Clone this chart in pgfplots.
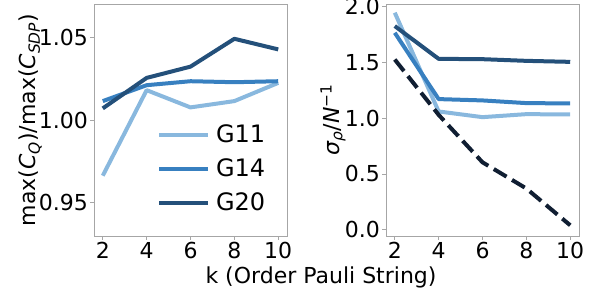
\documentclass[border=0pt]{standalone}
\usepackage{pgfplots}
\pgfplotsset{compat=1.18}
\usepackage{fontspec}
\setmainfont{DejaVu Sans}
\definecolor{cA}{RGB}{137,184,222}
\definecolor{cB}{RGB}{56,128,192}
\definecolor{cC}{RGB}{36,80,122}
\definecolor{cD}{RGB}{16,30,50}
\begin{document}
\fontsize{22}{26}\selectfont
\begin{tikzpicture}
\useasboundingbox (0pt,0pt) rectangle (597pt,294pt);
\pgfplotsset{
  myax/.style={
    scale only axis, width=193pt, height=232pt,
    anchor=south west,
    xmin=1.6, xmax=10.4,
    xtick={2,4,6,8,10},
    tick align=outside, tick pos=left,
    major tick length=4pt,
    axis line style={draw=black!35, line width=0.8pt},
    tick style={draw=black!35, line width=0.8pt},
    tick label style={font=\fontsize{22}{26}\selectfont},
    xticklabel style={inner sep=2pt},
    yticklabel style={inner sep=2pt},
    label style={font=\fontsize{22}{26}\selectfont},
    /pgf/number format/assume math mode=true,
    every axis plot/.append style={line width=4pt, line join=round},
  }
}
\begin{axis}[myax, at={(94pt,58pt)},
  ymin=0.93, ymax=1.07,
  ytick={0.95,1.00,1.05},
  yticklabel style={/pgf/number format/.cd, fixed, fixed zerofill, precision=2},
  ylabel={max(\textit{C}\textsubscript{\textit{Q}})/max(\textit{C}\textsubscript{\textit{SDP}})},
  ylabel style={at={(axis description cs:-0.33,0.5)}, anchor=center},
  legend style={at={(axis description cs:0.31,0.50)}, anchor=north west, draw=none, fill=none,
    font=\fontsize{24}{28}\selectfont, row sep=9pt},
  legend image code/.code={\draw[#1, line width=4pt] (0pt,0pt) -- (49pt,0pt); \path (53pt,0pt);},
]
\addplot[cA] coordinates {(2,0.9664) (4,1.018) (6,1.0076) (8,1.0114) (10,1.0224)};
\addplot[cB] coordinates {(2,1.0114) (4,1.021) (6,1.0234) (8,1.0228) (10,1.0234)};
\addplot[cC] coordinates {(2,1.007) (4,1.0254) (6,1.0322) (8,1.049) (10,1.0426)};
\legend{G11,G14,G20}
\end{axis}
\begin{axis}[myax, at={(386pt,58pt)},
  ymin=-0.057, ymax=2.024,
  ytick={0,0.5,1.0,1.5,2.0},
  yticklabel style={/pgf/number format/.cd, fixed, fixed zerofill, precision=1},
  ylabel={\textit{σ}\textsubscript{\textit{ρ}}/\textit{N}\textsuperscript{−1}},
  ylabel style={at={(axis description cs:-0.275,0.5)}, anchor=center},
]
\addplot[cA] coordinates {(2,1.946) (4,1.06) (6,1.009) (8,1.036) (10,1.033)};
\addplot[cB] coordinates {(2,1.766) (4,1.171) (6,1.159) (8,1.135) (10,1.132)};
\addplot[cC] coordinates {(2,1.826) (4,1.532) (6,1.529) (8,1.514) (10,1.505)};
\addplot[cD, dash pattern=on 14.8pt off 6.4pt] coordinates {(2,1.526) (4,1.03) (6,0.604) (8,0.369) (10,0.039)};
\end{axis}
\node[anchor=base, font=\fontsize{22}{26}\selectfont] at (321pt,10pt) {k (Order Pauli String)};
\end{tikzpicture}
\end{document}
